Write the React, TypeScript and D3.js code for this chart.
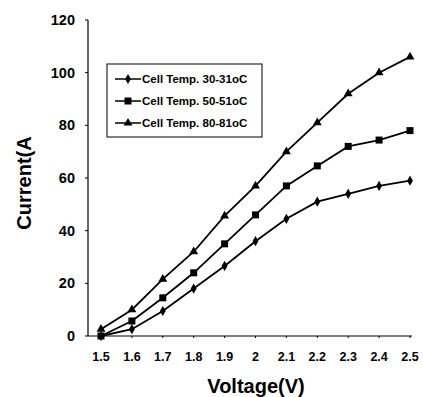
import React, { useEffect, useRef } from 'react';
import * as d3 from 'd3';

const voltages = [1.5, 1.6, 1.7, 1.8, 1.9, 2.0, 2.1, 2.2, 2.3, 2.4, 2.5];
const temp30 = [0, 2.6, 9.5, 18, 26.6, 36, 44.5, 51, 54, 57, 59];
const temp50 = [0, 5.7, 14.5, 24, 35, 46, 57, 64.6, 72, 74.4, 78];
const temp80 = [2.6, 10, 21.6, 32, 45.6, 57, 70, 81, 92, 100, 106];
const seriesNames = ['Cell Temp. 30-31oC', 'Cell Temp. 50-51oC', 'Cell Temp. 80-81oC'];
const markerTypes = ['circle', 'square', 'triangle'];
const yTicks = [0, 20, 40, 60, 80, 100, 120];
const xTickLabels = ['1.5', '1.6', '1.7', '1.8', '1.9', '2', '2.1', '2.2', '2.3', '2.4', '2.5'];

const W = 423;
const H = 397;
const FONT = 'Liberation Sans, Arial, sans-serif';

export default function App() {
  const svgRef = useRef<SVGSVGElement>(null);

  useEffect(() => {
    if (!svgRef.current) return;
    const svg = d3.select(svgRef.current);
    svg.selectAll('*').remove();

    const x = d3.scaleLinear().domain([1.5, 2.5]).range([101, 410]);
    const y = d3.scaleLinear().domain([0, 120]).range([336, 20]);

    const g = svg.append('g');

    // axes
    g.append('line')
      .attr('x1', 88).attr('x2', 88)
      .attr('y1', y(120)).attr('y2', y(0))
      .attr('stroke', '#000').attr('stroke-width', 1.2);
    g.append('line')
      .attr('x1', 88).attr('x2', 412)
      .attr('y1', y(0)).attr('y2', y(0))
      .attr('stroke', '#000').attr('stroke-width', 1.2);

    yTicks.forEach(t => {
      g.append('line')
        .attr('x1', 85).attr('x2', 88)
        .attr('y1', y(t)).attr('y2', y(t))
        .attr('stroke', '#000');
      g.append('text')
        .attr('x', 75).attr('y', y(t) + 5)
        .attr('text-anchor', 'end')
        .style('font-family', FONT)
        .style('font-size', '14.5px')
        .style('font-weight', 'bold')
        .text(String(t));
    });

    voltages.forEach((v, i) => {
      g.append('line')
        .attr('x1', x(v)).attr('x2', x(v))
        .attr('y1', y(0)).attr('y2', y(0) + 2)
        .attr('stroke', '#000');
      g.append('text')
        .attr('x', x(v)).attr('y', 361)
        .attr('text-anchor', 'middle')
        .style('font-family', FONT)
        .style('font-size', '12.5px')
        .style('font-weight', 'bold')
        .text(xTickLabels[i]);
    });

    // axis titles
    g.append('text')
      .attr('transform', `translate(31, 183) rotate(-90)`)
      .attr('text-anchor', 'middle')
      .style('font-family', FONT)
      .style('font-size', '20px')
      .style('font-weight', 'bold')
      .text('Current(A');
    g.append('text')
      .attr('x', 256).attr('y', 393)
      .attr('text-anchor', 'middle')
      .style('font-family', FONT)
      .style('font-size', '20px')
      .style('font-weight', 'bold')
      .text('Voltage(V)');

    const drawMarker = (sel: any, type: string, cx: number, cy: number) => {
      if (type === 'circle') {
        sel.append('path')
          .attr('d', d3.symbol(d3.symbolDiamond, 30)())
          .attr('transform', `translate(${cx},${cy})`)
          .attr('fill', '#000');
      } else if (type === 'square') {
        sel.append('rect')
          .attr('x', cx - 3.5).attr('y', cy - 3.5)
          .attr('width', 7).attr('height', 7)
          .attr('fill', '#000');
      } else {
        sel.append('path')
          .attr('d', d3.symbol(d3.symbolTriangle, 34)())
          .attr('transform', `translate(${cx},${cy})`)
          .attr('fill', '#000');
      }
    };

    const allSeries = [temp30, temp50, temp80];
    const line = d3.line<number>()
      .x((_, i) => x(voltages[i]))
      .y(d => y(d));

    allSeries.forEach((s, si) => {
      g.append('path')
        .attr('d', line(s))
        .attr('fill', 'none')
        .attr('stroke', '#000')
        .attr('stroke-width', 1.8);
      s.forEach((d, i) => drawMarker(g, markerTypes[si], x(voltages[i]), y(d)));
    });

    // legend
    const legend = g.append('g');
    legend.append('rect')
      .attr('x', 107).attr('y', 64)
      .attr('width', 155).attr('height', 73)
      .attr('fill', '#fff')
      .attr('stroke', '#000')
      .attr('stroke-width', 1);
    const rowY = [79, 101, 123];
    seriesNames.forEach((name, i) => {
      legend.append('line')
        .attr('x1', 115).attr('x2', 141)
        .attr('y1', rowY[i]).attr('y2', rowY[i])
        .attr('stroke', '#000').attr('stroke-width', 1.5);
      drawMarker(legend, markerTypes[i], 128, rowY[i]);
      legend.append('text')
        .attr('x', 142).attr('y', rowY[i] + 4)
        .style('font-family', FONT)
        .style('font-size', '11.5px')
        .style('font-weight', 'bold')
        .text(name);
    });
  }, []);

  return (
    <svg
      ref={svgRef}
      width={W}
      height={H}
      viewBox={`0 0 ${W} ${H}`}
      style={{ position: 'absolute', left: 0, top: 0, background: '#fff' }}
    />
  );
}
